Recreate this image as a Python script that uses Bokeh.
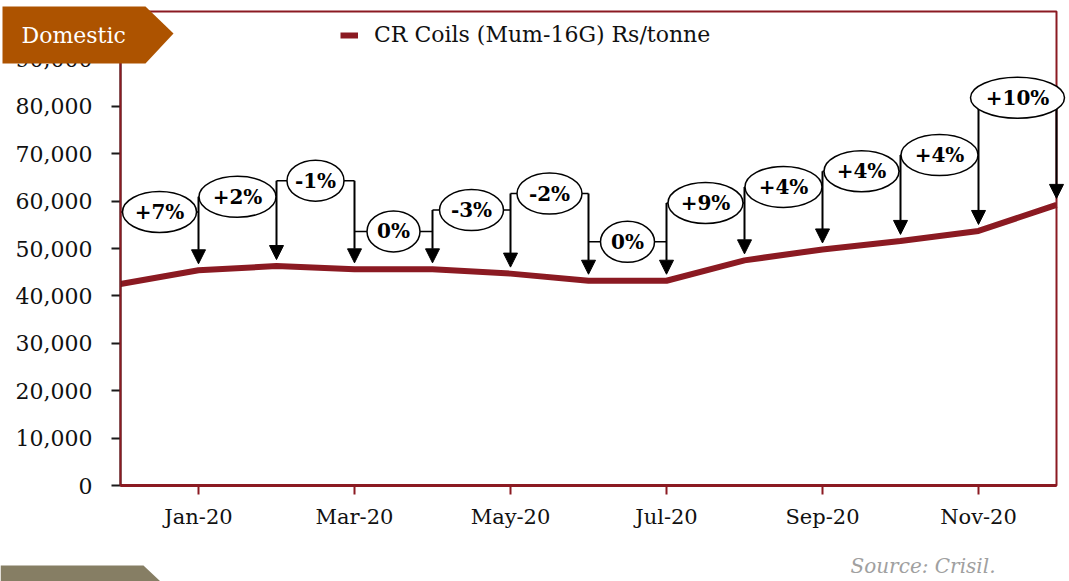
from bokeh.plotting import figure
from bokeh.models import (Range1d, FixedTicker, NumeralTickFormatter, Arrow, NormalHead,
                          ColumnDataSource, Legend, LegendItem, PolyAnnotation, Label,
                          BoxAnnotation)
from bokeh.core.properties import value
from bokeh.embed import file_html
from bokeh.resources import INLINE

# ---- data ----
months = ["Dec-19", "Jan-20", "Feb-20", "Mar-20", "Apr-20", "May-20", "Jun-20",
          "Jul-20", "Aug-20", "Sep-20", "Oct-20", "Nov-20", "Dec-20"]
prices = [42500, 45400, 46300, 45600, 45600, 44700, 43200,
          43200, 47500, 49800, 51600, 53700, 59200]
change_labels = ["+7%", "+2%", "-1%", "0%", "-3%", "-2%", "0%",
                 "+9%", "+4%", "+4%", "+4%", "+10%"]
# callout levels (annotation placement, in Rs/tonne)
callout_level = [57700, 60900, 64300, 53600, 58100, 61600, 51400,
                 59600, 63000, 66300, 69700, 81800]
callout_width_px = [74, 77, 57, 53, 64, 65, 54, 75, 77, 75, 77, 94]
y_ticks = [0, 10000, 20000, 30000, 40000, 50000, 60000, 70000, 80000, 90000]
x_tick_idx = [1, 3, 5, 7, 9, 11]

SERIF = "DejaVu Serif"
RED = "#8B1A22"

# ---- layout (pixels on the canvas) ----
W, H = 1069, 581
PL, PR, PT, PB = 120, 1056, 11, 485   # plot area edges
Y_MAX = 100000
N_M = len(months) - 1
sx = (PR - PL) / N_M          # px per month
sy = (PB - PT) / Y_MAX        # px per unit

x_range = Range1d(-PL / sx, (W - PL) / sx)
y_range = Range1d(-(H - PB) / sy, Y_MAX + PT / sy)

p = figure(width=W, height=H, output_backend="svg", toolbar_location=None,
           x_range=x_range, y_range=y_range,
           min_border_left=0, min_border_right=0, min_border_top=0, min_border_bottom=0)
p.grid.visible = False
p.outline_line_color = None
p.background_fill_color = "white"
p.border_fill_color = "white"

idx = list(range(len(months)))

# plot-area border
p.add_layout(BoxAnnotation(left=0, right=N_M, bottom=0, top=Y_MAX,
                           fill_color=None, fill_alpha=0, line_color=RED, line_alpha=1,
                           line_width=2))

# main line
line_r = p.line(x=idx, y=prices, line_color=RED, line_width=6)

# callout stubs
n = len(change_labels)
p.segment(x0=[i for i in range(n)], y0=callout_level,
          x1=[i + 1 for i in range(n)], y1=callout_level,
          line_color="black", line_width=1.5)

# arrows to each month (except the first)
gap = 6.5 / sy
ax, ys, ye = [], [], []
for m in range(1, len(months)):
    left = callout_level[m - 1]
    right = callout_level[m] if m < n else left
    ax.append(m)
    ys.append(max(left, right))
    ye.append(prices[m] + gap)
asrc = ColumnDataSource(dict(x=ax, ys=ys, ye=ye))
p.add_layout(Arrow(end=NormalHead(size=14, fill_color="black", line_color="black", line_width=1),
                   x_start="x", y_start="ys", x_end="x", y_end="ye", source=asrc,
                   line_color="black", line_width=2))

# ovals + text
csrc = ColumnDataSource(dict(x=[i + 0.5 for i in range(n)], y=callout_level,
                             w=callout_width_px, t=change_labels))
e = p.ellipse(x="x", y="y", width="w", height=41, width_units="screen", height_units="screen",
              source=csrc, fill_color="white", line_color="black", line_width=1.5)
e.level = "overlay"
t = p.text(x="x", y="y", text="t", source=csrc, text_font=value(SERIF), text_font_style="bold",
           text_font_size="20px", text_align="center", text_baseline="middle", text_color="black")
t.level = "overlay"

# axes (fixed at the plot-area edges)
p.xaxis.fixed_location = 0
p.xaxis.bounds = (0, N_M)
p.xaxis.ticker = FixedTicker(ticks=x_tick_idx)
p.xaxis.major_label_overrides = {i: months[i] for i in x_tick_idx}
p.xaxis.axis_line_color = RED
p.xaxis.axis_line_width = 3
p.xaxis.major_tick_line_color = RED
p.xaxis.major_tick_line_width = 2
p.xaxis.major_tick_out = 9
p.xaxis.major_tick_in = 0
p.xaxis.minor_tick_line_color = None
p.xaxis.major_label_text_font = SERIF
p.xaxis.major_label_text_font_size = "21px"
p.xaxis.major_label_text_color = "#111111"
p.xaxis.major_label_standoff = 10

p.yaxis.fixed_location = 0
p.yaxis.bounds = (0, Y_MAX)
p.yaxis.ticker = FixedTicker(ticks=y_ticks)
p.yaxis.formatter = NumeralTickFormatter(format="0,0")
p.yaxis.axis_line_color = "#1a1a1a"
p.yaxis.axis_line_width = 2
p.yaxis.major_tick_line_color = "#1a1a1a"
p.yaxis.major_tick_line_width = 2
p.yaxis.major_tick_out = 9
p.yaxis.major_tick_in = 0
p.yaxis.minor_tick_line_color = None
p.yaxis.major_label_text_font = SERIF
p.yaxis.major_label_text_font_size = "22px"
p.yaxis.major_label_text_color = "#111111"
p.yaxis.major_label_standoff = 19

# legend
legend = Legend(items=[LegendItem(label="CR Coils (Mum-16G) Rs/tonne", renderers=[line_r])],
                location=(340, H - 47), orientation="horizontal",
                glyph_width=18, glyph_height=20, label_height=20, label_standoff=16,
                padding=0, spacing=0, border_line_color=None, background_fill_alpha=0,
                label_text_font=SERIF, label_text_font_size="22px", label_text_color="#111111")
p.add_layout(legend)

# "Domestic" banner
p.add_layout(PolyAnnotation(xs=[2, 145, 173, 145, 2], ys=[6, 6, 33, 63, 63],
                            xs_units="canvas", ys_units="canvas",
                            fill_color="#AD5300", fill_alpha=1, line_color=None, level="overlay"))
p.add_layout(Label(x=21, y=35, x_units="canvas", y_units="canvas", text="Domestic",
                   text_color="white", text_font=SERIF, text_font_size="22px",
                   text_baseline="middle", level="overlay"))

# bottom banner (partially visible)
p.add_layout(PolyAnnotation(xs=[0, 143, 160, 0], ys=[565, 565, 581, 581],
                            xs_units="canvas", ys_units="canvas",
                            fill_color="#867E64", fill_alpha=1, line_color=None, level="overlay"))

# source note
p.add_layout(Label(x=850, y=565, x_units="canvas", y_units="canvas", text="Source: Crisil.",
                   text_color="#A0A0A0", text_font=SERIF, text_font_style="italic",
                   text_font_size="20px", text_baseline="middle"))

open("out.html", "w").write(file_html(p, INLINE))
